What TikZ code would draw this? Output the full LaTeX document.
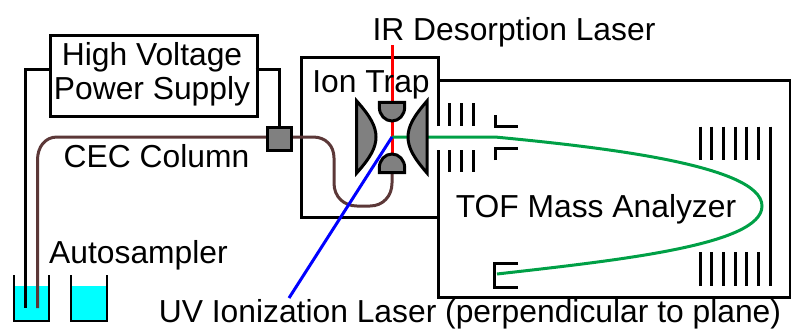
\documentclass[tikz,border=0pt]{standalone}
\usepackage{fontspec}
\setmainfont{Liberation Sans}
\definecolor{colbrown}{RGB}{92,56,56}
\definecolor{elecgray}{RGB}{128,128,128}
\definecolor{iongreen}{RGB}{0,160,70}
\definecolor{liquid}{RGB}{0,255,255}
\definecolor{uvblue}{RGB}{0,0,255}
\definecolor{irred}{RGB}{255,0,0}
\begin{document}
\begin{tikzpicture}[x=1pt,y=-1pt,
  wire/.style={draw=black,line width=3pt},
  column/.style={draw=colbrown,line width=3pt},
  electrode/.style={draw=black,fill=elecgray,line width=3pt,line join=miter},
  label/.style={font=\fontsize{31.8}{34}\selectfont,inner sep=0pt,anchor=base,text=black},
  beaker/.style={draw=black,line width=2.5pt},
  plate/.style={draw=black,line width=3pt}]
\useasboundingbox (0,0) rectangle (791,330);
\begin{scope}
\clip (0,0) rectangle (791,330);
% beaker liquid
\fill[liquid] (14,286) rectangle (49,321);
\fill[liquid] (71,286) rectangle (107,321);
\coordinate (wireend) at (25.7,308);
\coordinate (colend) at (37.5,308);
\coordinate (hvleft) at (48.7,69);
\coordinate (hvright) at (255.7,69);
% instrument outlines
\draw[wire] (438,126) -- (438,57) -- (301,57) -- (301,217) -- (438,217);
\draw[wire] (438,80) -- (790,80) -- (790,297) -- (438,297) -- (438,150);
% power supply
\node[draw=black,line width=3pt,minimum width=207pt,minimum height=80.7pt,inner sep=0pt,anchor=north west] (hv) at (48.7,34.3) {};
\draw[wire,line join=miter] (hvleft) -- (25.7,69) -- (wireend);
% column
\coordinate (coltrap) at (392,172);
\draw[column] (colend) -- (37.5,160) .. controls (37.5,147) and (45,137) .. (57,137) -- (313,137)
  .. controls (326,137) and (334,146) .. (334,158) -- (334,183)
  .. controls (334,197) and (344,206) .. (357,206) -- (370,206)
  .. controls (383,206) and (392,196) .. (392,183) -- (coltrap);
\node[draw=black,fill=elecgray,line width=3pt,minimum width=24.3pt,minimum height=23.3pt,inner sep=0pt,anchor=north west] (tee) at (265.7,125.7) {};
\draw[wire,line join=miter] (hvright) -| (tee.north);
% beams
\coordinate (irtop) at (392,45);
\coordinate (trapc) at (392,137);
\coordinate (uvend) at (289,298);
\draw[irred,line width=3pt] (irtop) -- (392,156);
\draw[iongreen,line width=3pt] (trapc) -- (495,137)
  .. controls (600,147) and (762,165) .. (762,206)
  .. controls (762,245) and (620,260) .. (497,274);
% electrodes
\draw[electrode] (356.7,101) .. controls (370,116) and (376,126) .. (376,137) .. controls (376,148) and (370,158) .. (356.7,173) -- cycle;
\draw[electrode] (427,101) .. controls (414,116) and (408,126) .. (408,137) .. controls (408,148) and (414,158) .. (427,173) -- cycle;
\draw[electrode] (379.3,102.3) -- (404.7,102.3) -- (404.7,107) .. controls (404.7,115) and (399,121) .. (392,121) .. controls (385,121) and (379.3,115) .. (379.3,107) -- cycle;
\draw[electrode] (379.3,172.7) -- (404.7,172.7) -- (404.7,168) .. controls (404.7,160) and (399,154) .. (392,154) .. controls (385,154) and (379.3,160) .. (379.3,168) -- cycle;
\draw[uvblue,line width=3pt] (trapc) -- (uvend);
% ion optics
\foreach \x in {449,461,473} {
  \draw[plate] (\x,103) -- (\x,126);
  \draw[plate] (\x,150) -- (\x,172);
}
\draw[plate] (495,115) -- (495,126) -- (518,126);
\draw[plate] (495,160) -- (495,148) -- (518,148);
\draw[plate] (518,263) -- (494,263) -- (494,287) -- (518,287);
\foreach \x in {700.7,711.7,723.3,735,746.7,758.3} {
  \draw[plate] (\x,126.7) -- (\x,160);
  \draw[plate] (\x,252.3) -- (\x,285.7);
}
\draw[plate] (770,126.7) -- (770,285.7);
% beakers
\draw[beaker] (14,275) -- (14,321) -- (49,321) -- (49,275);
\draw[beaker] (71,275) -- (71,321) -- (107,321) -- (107,275);
\end{scope}
% labels
\node[label] (hvtext1) at (152,65) {High Voltage};
\node[label] (hvtext2) at (152,99) {Power Supply};
\node[label] (irl) at (514,40) {IR Desorption Laser};
\node[label] (trapl) at (371,92) {Ion Trap};
\node[label] (cecl) at (156.5,167) {CEC Column};
\node[label] (autol) at (138.5,263) {Autosampler};
\node[label] (tofl) at (596,217) {TOF Mass Analyzer};
\node[label] (uvl) at (470,322) {UV Ionization Laser (perpendicular to plane)};
\end{tikzpicture}
\end{document}
